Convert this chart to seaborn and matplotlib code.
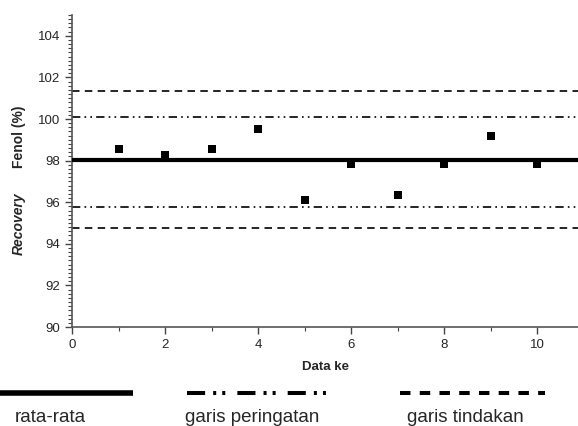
import matplotlib
matplotlib.use("Agg")
import matplotlib.pyplot as plt
import seaborn as sns
import pandas as pd
import numpy as np
from matplotlib.ticker import MultipleLocator

data_ke = [1, 2, 3, 4, 5, 6, 7, 8, 9, 10]
recovery = [98.54, 98.29, 98.54, 99.5, 96.12, 97.82, 96.36, 97.82, 99.17, 97.82]
rata_rata = 98.02
garis_peringatan = [100.12, 95.77]
garis_tindakan = [101.33, 94.74]
legend_labels = ["rata-rata", "garis peringatan", "garis tindakan"]

sns.set_style("ticks")
plt.rcParams['font.family'] = ['Liberation Sans', 'DejaVu Sans']

fig = plt.figure(figsize=(5.78, 4.26), dpi=100)
ax = fig.add_axes([72/578, 99/426, 1 - 72/578, (327-15)/426])

df = pd.DataFrame({"x": data_ke, "y": recovery})
sns.scatterplot(data=df, x="x", y="y", ax=ax, marker="s", s=26, color="black",
                edgecolor="black", linewidth=0, zorder=5)

warn_dash = (5, 2.5, 1, 2.5, 1, 2.5)
act_dash = (4.5, 3.2)
ax.axhline(rata_rata, color="black", lw=3.0, zorder=4)
for v in garis_peringatan:
    ax.axhline(v, color="black", lw=1.2, linestyle=(0, warn_dash))
for v in garis_tindakan:
    ax.axhline(v, color="black", lw=1.2, linestyle=(0, act_dash))

ax.set_xlim(0, 10.88)
ax.set_ylim(90, 105)
ax.set_yticks(np.arange(90, 105, 2))
ax.set_xticks(np.arange(0, 11, 2))
ax.yaxis.set_minor_locator(MultipleLocator(0.2))
ax.xaxis.set_minor_locator(MultipleLocator(1))
ax.tick_params(axis="both", which="major", length=5, width=1, color="#444444",
               labelsize=9.5, direction="out")
ax.tick_params(axis="both", which="minor", length=3, width=0.8, color="#444444",
               direction="out")
for s in ["top", "right"]:
    ax.spines[s].set_visible(False)
for s in ["left", "bottom"]:
    ax.spines[s].set_color("#555555")
    ax.spines[s].set_linewidth(1.2)

ax.set_xlabel("Data ke", fontsize=9.5, fontweight="bold", labelpad=7)
ax.set_ylabel("")
ax.text((19-72)/506, (327-137)/312, "Fenol (%)", transform=ax.transAxes, rotation=90,
        fontsize=10, fontweight="bold", ha="center", va="center")
ax.text((19-72)/506, (327-224)/312, "Recovery", transform=ax.transAxes, rotation=90,
        fontsize=10, fontweight="bold", fontstyle="italic", ha="center", va="center")

# legend drawn below
lax = fig.add_axes([0, 0, 1, 99/426])
lax.set_xlim(0, 578)
lax.set_ylim(99, 0)
lax.axis("off")
lax.plot([0, 133], [66, 66], color="black", lw=4, solid_capstyle="butt")
lax.plot([187, 330], [66, 66], color="black", lw=2.9,
         linestyle=(0, (4.5, 2.0, 0.75, 1.5, 0.75, 3.0)))
lax.plot([400, 545], [66, 66], color="black", lw=2.9, linestyle=(0, (2.6, 2.3)))
lax.text(50, 90, legend_labels[0], fontsize=13.5, ha="center", va="center")
lax.text(252, 90, legend_labels[1], fontsize=13.5, ha="center", va="center")
lax.text(465, 90, legend_labels[2], fontsize=13.5, ha="center", va="center")

fig.savefig("out.png", dpi=100)
